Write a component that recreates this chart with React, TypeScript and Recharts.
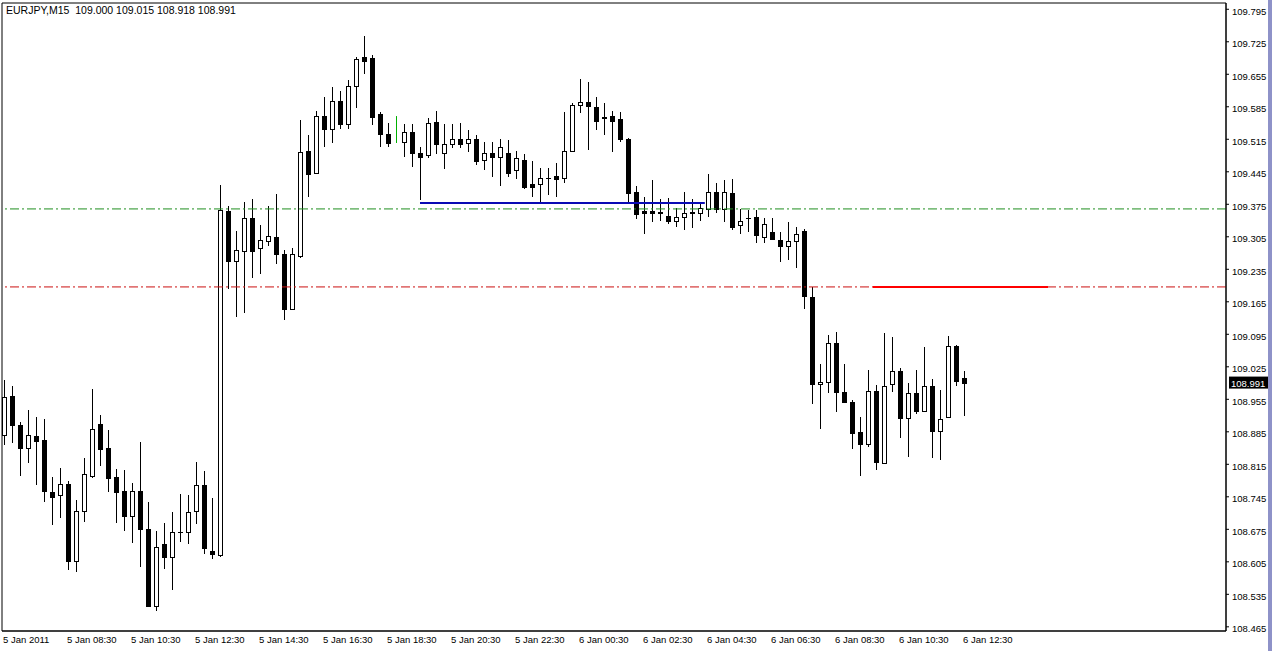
import React from "react";
import {
  ComposedChart,
  Bar,
  XAxis,
  YAxis,
  ReferenceLine,
  ReferenceArea,
} from "recharts";

// EURJPY M15, one candle every 15 minutes from 5 Jan 06:30
const opens = [
  108.878, 108.962, 108.900, 108.850, 108.876, 108.868, 108.756, 108.749, 108.773, 108.607,
  108.715, 108.790, 108.902, 108.850, 108.788, 108.758, 108.704, 108.758, 108.676, 108.510,
  108.644, 108.616, 108.669, 108.669, 108.715, 108.771, 108.629, 108.620, 109.361, 109.253,
  109.275, 109.346, 109.281, 109.296, 109.305, 109.268, 109.150, 109.264, 109.490, 109.442,
  109.565, 109.537, 109.598, 109.548, 109.630, 109.692, 109.690, 109.570, 109.527, 109.507,
  109.509, 109.531, 109.486, 109.481, 109.552, 109.486, 109.505, 109.516, 109.507, 109.516,
  109.470, 109.486, 109.477, 109.486, 109.449, 109.470, 109.419, 109.419, 109.432, 109.436,
  109.432, 109.490, 109.589, 109.595, 109.585, 109.561, 109.565, 109.559, 109.516, 109.402,
  109.361, 109.361, 109.359, 109.350, 109.339, 109.348, 109.359, 109.356, 109.365, 109.402,
  109.365, 109.399, 109.331, 109.346, 109.348, 109.305, 109.315, 109.298, 109.285, 109.296,
  109.318, 109.176, 108.988, 108.992, 109.076, 108.971, 108.949, 108.885, 108.859, 108.973,
  108.818, 108.988, 109.016, 108.915, 108.969, 108.930, 108.984, 108.887, 108.917, 109.070,
  109.000,
];
const highs = [
  108.997, 108.984, 108.906, 108.932, 108.917, 108.913, 108.788, 108.807, 108.779, 108.738,
  108.829, 108.977, 108.921, 108.889, 108.805, 108.803, 108.775, 108.863, 108.734, 108.672,
  108.689, 108.713, 108.751, 108.749, 108.820, 108.801, 108.743, 109.417, 109.371, 109.318,
  109.380, 109.387, 109.331, 109.371, 109.397, 109.277, 109.281, 109.557, 109.524, 109.576,
  109.606, 109.628, 109.619, 109.643, 109.692, 109.738, 109.697, 109.574, 109.550, 109.565,
  109.548, 109.548, 109.498, 109.561, 109.576, 109.548, 109.548, 109.550, 109.535, 109.524,
  109.509, 109.509, 109.516, 109.514, 109.490, 109.483, 109.468, 109.453, 109.453, 109.464,
  109.574, 109.593, 109.645, 109.638, 109.606, 109.593, 109.576, 109.574, 109.518, 109.414,
  109.391, 109.427, 109.387, 109.389, 109.367, 109.402, 109.387, 109.378, 109.440, 109.421,
  109.427, 109.430, 109.365, 109.363, 109.363, 109.346, 109.346, 109.315, 109.337, 109.326,
  109.322, 109.197, 109.031, 109.094, 109.100, 109.031, 108.954, 108.917, 109.018, 108.986,
  109.098, 109.089, 109.023, 108.990, 109.018, 109.068, 108.999, 108.975, 109.092, 109.072,
  109.015,
];
const lows = [
  108.857, 108.861, 108.790, 108.818, 108.771, 108.734, 108.685, 108.700, 108.588, 108.583,
  108.691, 108.786, 108.812, 108.756, 108.689, 108.672, 108.646, 108.594, 108.508, 108.499,
  108.590, 108.545, 108.648, 108.644, 108.687, 108.622, 108.611, 108.616, 109.193, 109.132,
  109.141, 109.216, 109.225, 109.285, 109.247, 109.126, 109.148, 109.259, 109.391, 109.442,
  109.498, 109.507, 109.537, 109.537, 109.582, 109.656, 109.546, 109.498, 109.498, 109.507,
  109.477, 109.455, 109.384, 109.475, 109.483, 109.451, 109.496, 109.496, 109.488, 109.460,
  109.449, 109.434, 109.414, 109.434, 109.430, 109.408, 109.391, 109.378, 109.395, 109.391,
  109.421, 109.490, 109.572, 109.492, 109.535, 109.524, 109.488, 109.509, 109.378, 109.343,
  109.311, 109.337, 109.339, 109.333, 109.326, 109.320, 109.324, 109.339, 109.348, 109.356,
  109.337, 109.320, 109.311, 109.315, 109.292, 109.292, 109.300, 109.251, 109.255, 109.238,
  109.150, 108.945, 108.891, 108.969, 108.928, 108.949, 108.848, 108.790, 108.852, 108.803,
  108.816, 108.971, 108.872, 108.831, 108.924, 108.928, 108.829, 108.825, 108.915, 108.984,
  108.918,
];
const closes = [
  108.960, 108.900, 108.850, 108.878, 108.865, 108.758, 108.745, 108.773, 108.607, 108.715,
  108.794, 108.891, 108.848, 108.786, 108.756, 108.704, 108.758, 108.676, 108.510, 108.637,
  108.616, 108.669, 108.669, 108.713, 108.771, 108.635, 108.622, 109.363, 109.253, 109.277,
  109.346, 109.275, 109.298, 109.307, 109.268, 109.150, 109.268, 109.488, 109.440, 109.565,
  109.537, 109.598, 109.548, 109.630, 109.688, 109.684, 109.563, 109.527, 109.507, 109.565,
  109.531, 109.486, 109.477, 109.550, 109.505, 109.505, 109.516, 109.505, 109.516, 109.468,
  109.486, 109.477, 109.498, 109.442, 109.475, 109.412, 109.412, 109.432, 109.432, 109.430,
  109.490, 109.589, 109.595, 109.587, 109.555, 109.563, 109.555, 109.516, 109.399, 109.354,
  109.356, 109.356, 109.356, 109.339, 109.348, 109.356, 109.356, 109.367, 109.402, 109.365,
  109.402, 109.326, 109.339, 109.346, 109.309, 109.333, 109.300, 109.285, 109.296, 109.311,
  109.178, 108.988, 108.992, 109.076, 108.971, 108.949, 108.883, 108.859, 108.973, 108.820,
  108.984, 109.016, 108.915, 108.969, 108.930, 108.984, 108.887, 108.913, 109.070, 108.995,
  108.991,
];

// candle drawn as a plain green line (no body)
const lineOnlyBars = [49];

const timeTicks = [0, 8, 16, 24, 32, 40, 48, 56, 64, 72, 80, 88, 96, 104, 112, 120];
const timeLabels = [
  "5 Jan 2011", "5 Jan 08:30", "5 Jan 10:30", "5 Jan 12:30", "5 Jan 14:30",
  "5 Jan 16:30", "5 Jan 18:30", "5 Jan 20:30", "5 Jan 22:30", "6 Jan 00:30",
  "6 Jan 02:30", "6 Jan 04:30", "6 Jan 06:30", "6 Jan 08:30", "6 Jan 10:30",
  "6 Jan 12:30",
];
const priceTicks = [
  109.795, 109.725, 109.655, 109.585, 109.515, 109.445, 109.375, 109.305, 109.235,
  109.165, 109.095, 109.025, 108.955, 108.885, 108.815, 108.745, 108.675, 108.605,
  108.535, 108.465,
];

const greenLevel = 109.365;
const redLevel = 109.197;
const blueSegment = { from: 52, to: 87.6, price: 109.378 };
const redSegment = { from: 108.6, to: 130.5, price: 109.197 };
const lastPrice = 108.991;
const header = "EURJPY,M15  109.000 109.015 108.918 108.991";

const FONT = "'Liberation Sans', Arial, sans-serif";

const data = opens.map((o, i) => ({
  i,
  open: o,
  high: highs[i],
  low: lows[i],
  close: closes[i],
  range: [lows[i], highs[i]],
  lineOnly: lineOnlyBars.includes(i),
}));

const Candle = (props: any) => {
  const { x, y, width, height, payload } = props;
  if (!payload) return null;
  const { open, close, high, low, lineOnly } = payload;
  const top = Math.min(y, y + height);
  const bottom = Math.max(y, y + height);
  const ppu = high === low ? 0 : (bottom - top) / (high - low);
  const yOf = (p: number) => top + (high - p) * ppu;
  const cx = Math.round(x + width / 2) + 0.5;

  if (lineOnly) {
    return (
      <line x1={cx} x2={cx} y1={yOf(high)} y2={yOf(low)} stroke="#00b000" strokeWidth={1} />
    );
  }

  const yo = Math.round(yOf(open)) + 0.5;
  const yc = Math.round(yOf(close)) + 0.5;
  const bTop = Math.min(yo, yc);
  const bBot = Math.max(yo, yc);
  const bull = close > open;

  return (
    <g shapeRendering="crispEdges">
      <line x1={cx} x2={cx} y1={yOf(high)} y2={yOf(low)} stroke="#000" strokeWidth={1} />
      {open === close ? (
        <line x1={cx - 2.5} x2={cx + 2.5} y1={yo} y2={yo} stroke="#000" strokeWidth={1} />
      ) : (
        <rect
          x={cx - 2}
          y={bTop}
          width={4}
          height={Math.max(bBot - bTop, 1)}
          fill={bull ? "#fff" : "#000"}
          stroke="#000"
          strokeWidth={1}
        />
      )}
    </g>
  );
};

const TimeTick = (props: any) => {
  const { x, y, payload } = props;
  const idx = timeTicks.indexOf(payload.value);
  return (
    <text x={x - 1} y={y} dy="0.71em" textAnchor="start" fontSize={9.5} fontFamily={FONT} fill="#000">
      {timeLabels[idx]}
    </text>
  );
};

const PriceTick = (props: any) => {
  const { x, y, payload } = props;
  return (
    <text x={x} y={y} dy={5.3} textAnchor="start" fontSize={9.5} fontFamily={FONT} fill="#000">
      {Number(payload.value).toFixed(3)}
    </text>
  );
};

const PriceTag = (props: any) => {
  const vb = props.viewBox || {};
  const px = (vb.x || 0) + (vb.width || 0) + 3;
  const py = vb.y || 0;
  return (
    <g>
      <rect x={px} y={py - 6} width={39} height={12} fill="#000" />
      <text x={px + 2} y={py + 4} fontSize={9.5} fontFamily={FONT} fill="#fff">
        {lastPrice.toFixed(3)}
      </text>
    </g>
  );
};

export default function App() {
  return (
    <div
      style={{
        position: "absolute",
        left: 0,
        top: 0,
        width: 1272,
        height: 651,
        background: "#fff",
        overflow: "hidden",
      }}
    >
      <ComposedChart
        width={1272}
        height={651}
        data={data}
        margin={{ top: 3, right: 2, bottom: 2, left: 2 }}
      >
        <XAxis
          dataKey="i"
          type="number"
          domain={[-0.25, 152.75]}
          allowDataOverflow
          ticks={timeTicks}
          interval={0}
          height={18}
          tickLine={false}
          tickSize={0}
          tickMargin={5}
          axisLine={{ stroke: "#000" }}
          tick={<TimeTick />}
        />
        <YAxis
          orientation="right"
          type="number"
          domain={[108.456, 109.8085]}
          allowDataOverflow
          ticks={priceTicks}
          interval={0}
          width={44}
          tickSize={3}
          tickMargin={3}
          tickLine={{ stroke: "#000" }}
          axisLine={{ stroke: "#000" }}
          tick={<PriceTick />}
        />
        <ReferenceArea
          x1={-0.25}
          x2={152.75}
          y1={108.456}
          y2={109.8085}
          fill="none"
          stroke="#000"
          strokeWidth={1}
          ifOverflow="extendDomain"
        />
        <ReferenceLine
          y={greenLevel}
          stroke="#1f8f1f"
          strokeWidth={1}
          strokeDasharray="9 3 2 3"
        />
        <ReferenceLine
          y={redLevel}
          stroke="#cc1010"
          strokeWidth={1}
          strokeDasharray="9 3 2 3"
        />
        <ReferenceLine
          segment={[
            { x: blueSegment.from, y: blueSegment.price },
            { x: blueSegment.to, y: blueSegment.price },
          ]}
          stroke="#0a0ab4"
          strokeWidth={2}
        />
        <ReferenceLine
          segment={[
            { x: redSegment.from, y: redSegment.price },
            { x: redSegment.to, y: redSegment.price },
          ]}
          stroke="#ff0000"
          strokeWidth={2}
        />
        <Bar dataKey="range" shape={Candle} barSize={5} isAnimationActive={false} />
        <ReferenceLine y={lastPrice} stroke="none" label={<PriceTag />} />
      </ComposedChart>
      <div
        style={{
          position: "absolute",
          left: 6,
          top: 4,
          fontSize: 10.5,
          lineHeight: "12px",
          fontFamily: FONT,
          color: "#000",
          whiteSpace: "pre",
        }}
      >
        {header}
      </div>
      <div
        style={{
          position: "absolute",
          left: 1268,
          top: 0,
          width: 4,
          height: 651,
          background: "#8e92c8",
        }}
      />
    </div>
  );
}
